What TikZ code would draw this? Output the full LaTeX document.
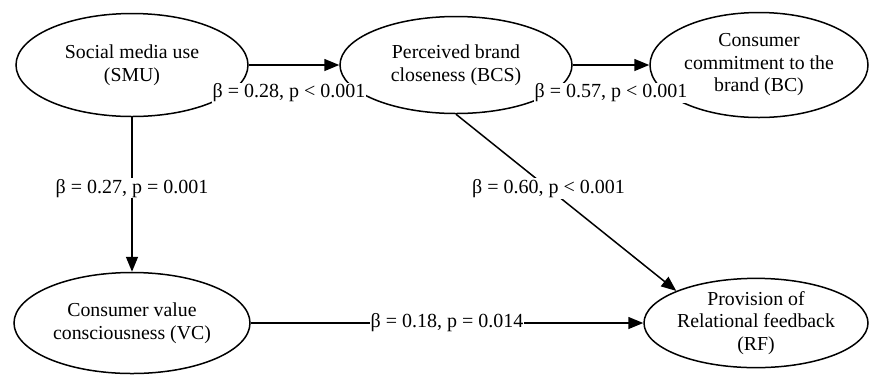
\documentclass[tikz,border=0pt]{standalone}
\usepackage{fontspec}
\setmainfont{Liberation Serif}
\usetikzlibrary{arrows.meta,positioning,shapes.geometric}

\begin{document}
\begin{tikzpicture}[x=1pt, y=-1pt,
    construct/.style={draw, ellipse, line width=1.5pt, align=center, inner sep=0pt,
                      font=\fontsize{19.8}{22.5}\selectfont},
    arr/.style={-{Triangle[length=15pt, width=12pt]}, line width=1.5pt},
    lab/.style={fill=white, inner sep=1pt, font=\fontsize{20}{22}\selectfont}
  ]
  \useasboundingbox (0,0) rectangle (870,376);
  \node[construct, minimum width=232pt, minimum height=103pt] (smu) at (132,65)
    {Social media use\\ (SMU)};
  \node[construct, minimum width=232pt, minimum height=97pt] (bcs) at (456,65)
    {Perceived brand\\ closeness (BCS)};
  \node[construct, minimum width=218pt, minimum height=105pt] (bc) at (759,65)
    {Consumer\\ commitment to the\\ brand (BC)};
  \node[construct, minimum width=236pt, minimum height=101pt] (vc) at (132,323)
    {Consumer value\\ consciousness (VC)};
  \node[construct, minimum width=224pt, minimum height=87pt] (rf) at (756,323)
    {Provision of\\ Relational feedback\\ (RF)};
  % paths
  \draw[arr] (smu) -- node[lab, below=17pt, xshift=-5pt] {β = 0.28, p < 0.001} (bcs);
  \draw[arr] (bcs) -- node[lab, below=17pt] {β = 0.57, p < 0.001} (bc);
  \draw[arr] (smu) -- node[lab, pos=0.46] {β = 0.27, p = 0.001} (vc);
  \draw[arr] (bcs.south) -- node[lab, pos=0.42] {β = 0.60, p < 0.001} (rf.north west);
  \draw[arr] (vc) -- node[lab] {β = 0.18, p = 0.014} (rf);
\end{tikzpicture}
\end{document}
